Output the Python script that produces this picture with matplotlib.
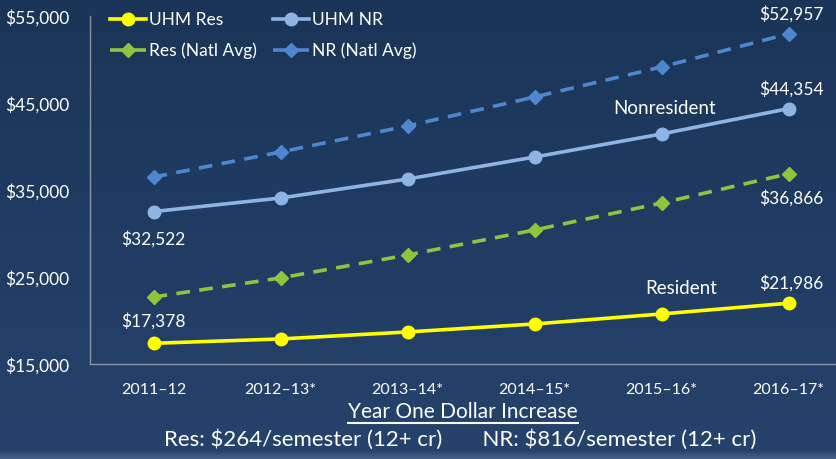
import numpy as np
import matplotlib
matplotlib.use("Agg")
import matplotlib.pyplot as plt
from matplotlib.lines import Line2D

years = ["2011\u201312", "2012\u201313*", "2013\u201314*", "2014\u201315*", "2015\u201316*", "2016\u201317*"]
uhm_res = [17378, 17880, 18680, 19600, 20750, 21986]
uhm_nr = [32522, 34080, 36260, 38790, 41440, 44354]
res_natl = [22700, 24890, 27530, 30400, 33500, 36866]
nr_natl = [36490, 39370, 42360, 45690, 49140, 52957]
yticks = [15000, 25000, 35000, 45000, 55000]
series_names = ['UHM Res', 'Res (Natl Avg)', 'UHM NR', 'NR (Natl Avg)']

plt.rcParams['font.family'] = ['Lato', 'DejaVu Sans']
plt.rcParams['text.parse_math'] = False
W, H = 836, 460
fig = plt.figure(figsize=(W / 100, H / 100), dpi=100)

# background gradient
bg = fig.add_axes([0, 0, 1, 1], zorder=-10)
rows = np.linspace(0, 1, 460)
top = np.array([0x1b, 0x35, 0x58]) / 255
bot = np.array([0x26, 0x43, 0x6d]) / 255
grad = top[None, :] * (1 - rows[:, None]) + bot[None, :] * rows[:, None]
strip = np.array([0x4a, 0x66, 0x8c]) / 255
for i in range(452, 460):
    t = (i - 451) / 9
    grad[i] = grad[i] * (1 - t) + strip * t
img = np.repeat(grad[:, None, :], 2, axis=1)
bg.imshow(img, aspect='auto', extent=[0, 1, 0, 1], origin='upper')
bg.set_axis_off()

ax = fig.add_axes([90 / W, (H - 365) / H, 762 / W, 348 / H])
ax.set_facecolor('none')
x = np.arange(len(years))

c_res, c_nr, c_rn, c_nn = '#ffff00', '#8eb4e3', '#8cc63f', '#4f86d0'
styles = {
    'UHM Res': dict(color=c_res, lw=2.6, marker='o', ms=9),
    'Res (Natl Avg)': dict(color=c_rn, lw=2.6, dashes=(3.8, 2.6), marker='D', ms=7.5),
    'UHM NR': dict(color=c_nr, lw=2.6, marker='o', ms=9),
    'NR (Natl Avg)': dict(color=c_nn, lw=2.6, dashes=(3.8, 2.6), marker='D', ms=7.5),
}
ax.plot(x, res_natl, zorder=3, **styles['Res (Natl Avg)'])
ax.plot(x, nr_natl, zorder=3, **styles['NR (Natl Avg)'])
ax.plot(x, uhm_res, zorder=4, **styles['UHM Res'])
ax.plot(x, uhm_nr, zorder=4, **styles['UHM NR'])

ax.set_xlim(-0.5, 5.5)
ax.set_ylim(15000, 55000)
ax.set_yticks(yticks)
ax.set_yticklabels([f"${v:,}" for v in yticks], color='white', fontsize=12.5)
ax.set_xticks(x)
ax.set_xticklabels(years, color='white', fontsize=11.5)
ax.tick_params(axis='both', length=0)
ax.tick_params(axis='y', pad=15)
ax.tick_params(axis='x', pad=13)
for s in ['top', 'right']:
    ax.spines[s].set_visible(False)
for s in ['left', 'bottom']:
    ax.spines[s].set_color('#8c96a3')
    ax.spines[s].set_linewidth(1)

lab = dict(color='white', fontsize=12.5, ha='center', va='center')
ax.annotate(f"${uhm_nr[0]:,}", (x[0], uhm_nr[0]), xytext=(0, -19), textcoords='offset points', **lab)
ax.annotate(f"${uhm_res[0]:,}", (x[0], uhm_res[0]), xytext=(0, 17), textcoords='offset points', **lab)
ax.annotate(f"${nr_natl[-1]:,}", (x[-1], nr_natl[-1]), xytext=(2, 15), textcoords='offset points', **lab)
ax.annotate(f"${uhm_nr[-1]:,}", (x[-1], uhm_nr[-1]), xytext=(2, 15), textcoords='offset points', **lab)
ax.annotate(f"${res_natl[-1]:,}", (x[-1], res_natl[-1]), xytext=(2, -17), textcoords='offset points', **lab)
ax.annotate(f"${uhm_res[-1]:,}", (x[-1], uhm_res[-1]), xytext=(2, 15), textcoords='offset points', **lab)
ax.annotate("Nonresident", (x[4], uhm_nr[4]), xytext=(2, 19), textcoords='offset points',
            color='white', fontsize=13.5, ha='center', va='center')
ax.annotate("Resident", (x[4], uhm_res[4]), xytext=(14, 19), textcoords='offset points',
            color='white', fontsize=13.5, ha='center', va='center')

# manual legend (pixel layout)
leg_pos = {
    'UHM Res': (110, 20), 'Res (Natl Avg)': (110, 51),
    'UHM NR': (273, 20), 'NR (Natl Avg)': (273, 51),
}
for name in series_names:
    px, py = leg_pos[name]
    st = dict(styles[name])
    ms = st.pop('ms'); mk = st.pop('marker')
    yy = 1 - py / H
    fig.add_artist(Line2D([px / W, (px + 36) / W], [yy, yy], transform=fig.transFigure, **st))
    fig.add_artist(Line2D([(px + 18) / W], [yy], transform=fig.transFigure, marker=mk, ms=ms,
                          color=st['color'], lw=0))
    fig.text((px + 39) / W, yy, name, color='white', fontsize=12.5, ha='left', va='center')

t1 = fig.text(463 / W, 1 - 412 / H, "Year One Dollar Increase", color='white', fontsize=15,
              ha='center', va='center')
fig.text(460 / W, 1 - 440 / H, "Res: $264/semester (12+ cr)       NR: $816/semester (12+ cr)",
         color='white', fontsize=16, ha='center', va='center')

fig.canvas.draw()
bb = t1.get_window_extent(renderer=fig.canvas.get_renderer())
inv = fig.transFigure.inverted()
(x0, y0), (x1, y1) = inv.transform([(bb.x0, bb.y0), (bb.x1, bb.y0)])
fig.add_artist(Line2D([x0, x1], [y0 - 1.5 / H, y0 - 1.5 / H], color='white', lw=1.5,
                      transform=fig.transFigure))

fig.savefig("out.png", dpi=100)
